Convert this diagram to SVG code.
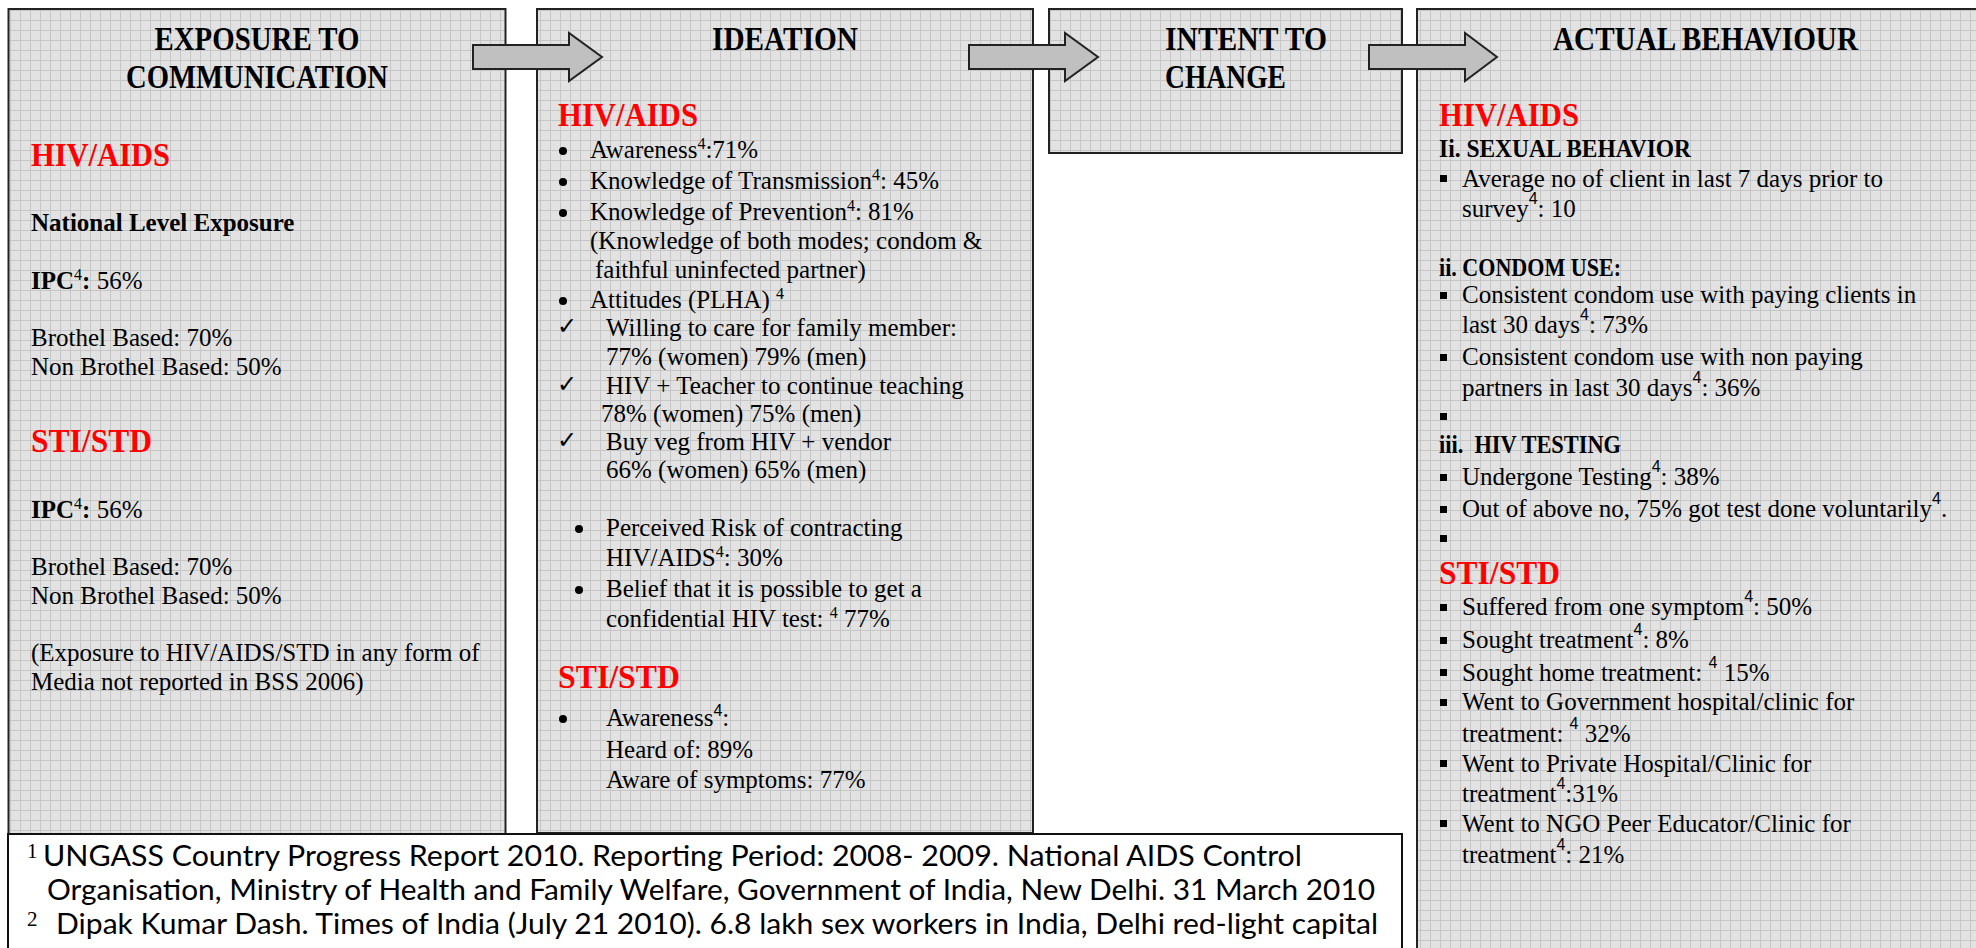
<svg xmlns="http://www.w3.org/2000/svg" width="1976" height="948" viewBox="0 0 1976 948">
<defs>
<pattern id="grid" width="10" height="10" patternUnits="userSpaceOnUse">
<rect width="10" height="10" fill="#e2e2e2"/>
<path d="M0 0.5H10M0.5 0V10" stroke="#c6c6c6" stroke-width="1"/>
</pattern>
<style>
.t{font-family:'Liberation Serif','DejaVu Serif',serif;font-size:25px;fill:#000}
.b{font-weight:bold}
.title{font-family:'Liberation Serif','DejaVu Serif',serif;font-size:33px;font-weight:bold;fill:#000}
.red{font-family:'Liberation Serif','DejaVu Serif',serif;font-size:34px;font-weight:bold;fill:#ff0000}
.sup{font-size:16px}
.ss{font-family:'Liberation Sans',sans-serif;font-size:16px}
.ck{font-family:'DejaVu Sans',sans-serif;font-size:24px;fill:#000}
.ft{font-family:Lato,'Liberation Sans',sans-serif;font-size:28px;fill:#000}
.fs{font-family:'Liberation Serif',serif;font-size:21px;fill:#000}
.box{fill:url(#grid);stroke:#222;stroke-width:2}
.arrow{fill:#c0c0c0;stroke:#222;stroke-width:2}
.dot{fill:#000}
</style>
</defs>
<rect width="1976" height="948" fill="#fff"/>

<g id="exposure">
<rect class="box" x="8.5" y="9" width="497" height="825"/>
<text class="title" x="257" y="50" text-anchor="middle" textLength="205" lengthAdjust="spacingAndGlyphs">EXPOSURE TO</text>
<text class="title" x="257" y="88" text-anchor="middle" textLength="262" lengthAdjust="spacingAndGlyphs">COMMUNICATION</text>
<text class="red" x="31" y="166" textLength="139" lengthAdjust="spacingAndGlyphs">HIV/AIDS</text>
<text class="t b" x="31" y="231">National Level Exposure</text>
<text class="t" x="31" y="289"><tspan class="b">IPC</tspan><tspan class="sup" dy="-9">4</tspan><tspan class="b" dy="9">:</tspan> 56%</text>
<text class="t" x="31" y="346">Brothel Based: 70%</text>
<text class="t" x="31" y="375">Non Brothel Based: 50%</text>
<text class="red" x="31" y="452" textLength="121" lengthAdjust="spacingAndGlyphs">STI/STD</text>
<text class="t" x="31" y="518"><tspan class="b">IPC</tspan><tspan class="sup" dy="-9">4</tspan><tspan class="b" dy="9">:</tspan> 56%</text>
<text class="t" x="31" y="575">Brothel Based: 70%</text>
<text class="t" x="31" y="604">Non Brothel Based: 50%</text>
<text class="t" x="31" y="661">(Exposure to HIV/AIDS/STD in any form of</text>
<text class="t" x="31" y="690">Media not reported in BSS 2006)</text>
</g>

<g id="ideation">
<rect class="box" x="537" y="9" width="496" height="824"/>
<text class="title" x="785" y="50" text-anchor="middle" textLength="146" lengthAdjust="spacingAndGlyphs">IDEATION</text>
<text class="red" x="558" y="126" textLength="140" lengthAdjust="spacingAndGlyphs">HIV/AIDS</text>
<circle class="dot" cx="563" cy="151" r="4"/>
<text class="t" x="590" y="158">Awareness<tspan class="sup" dy="-9">4</tspan><tspan dy="9">:71%</tspan></text>
<circle class="dot" cx="563" cy="182" r="4"/>
<text class="t" x="590" y="189">Knowledge of Transmission<tspan class="sup" dy="-9">4</tspan><tspan dy="9">: 45%</tspan></text>
<circle class="dot" cx="563" cy="213" r="4"/>
<text class="t" x="590" y="220">Knowledge of Prevention<tspan class="sup" dy="-9">4</tspan><tspan dy="9">: 81%</tspan></text>
<text class="t" x="590" y="249">(Knowledge of both modes; condom &amp;</text>
<text class="t" x="595" y="278">faithful uninfected partner)</text>
<circle class="dot" cx="563" cy="301" r="4"/>
<text class="t" x="590" y="308">Attitudes (PLHA) <tspan class="sup" dy="-9">4</tspan></text>
<text class="ck" x="557" y="334">✓</text>
<text class="t" x="606" y="336">Willing to care for family member:</text>
<text class="t" x="606" y="365">77% (women) 79% (men)</text>
<text class="ck" x="557" y="392">✓</text>
<text class="t" x="606" y="394">HIV + Teacher to continue teaching</text>
<text class="t" x="601" y="422">78% (women) 75% (men)</text>
<text class="ck" x="557" y="448">✓</text>
<text class="t" x="606" y="450">Buy veg from HIV + vendor</text>
<text class="t" x="606" y="478">66% (women) 65% (men)</text>
<circle class="dot" cx="579" cy="529" r="4"/>
<text class="t" x="606" y="536">Perceived Risk of contracting</text>
<text class="t" x="606" y="566">HIV/AIDS<tspan class="sup" dy="-9">4</tspan><tspan dy="9">: 30%</tspan></text>
<circle class="dot" cx="579" cy="590" r="4"/>
<text class="t" x="606" y="597">Belief that it is possible to get a</text>
<text class="t" x="606" y="627">confidential HIV test: <tspan class="sup" dy="-9">4</tspan><tspan dy="9"> 77%</tspan></text>
<text class="red" x="558" y="688" textLength="122" lengthAdjust="spacingAndGlyphs">STI/STD</text>
<circle class="dot" cx="563" cy="719" r="4"/>
<text class="t" x="606" y="726">Awareness<tspan class="ss" dy="-10" font-size="15">4</tspan><tspan dy="10">:</tspan></text>
<text class="t" x="606" y="758">Heard of: 89%</text>
<text class="t" x="606" y="788">Aware of symptoms: 77%</text>
</g>

<g id="intent">
<rect class="box" x="1049" y="9" width="353" height="144"/>
<text class="title" x="1165" y="50" textLength="162" lengthAdjust="spacingAndGlyphs">INTENT TO</text>
<text class="title" x="1165" y="88" textLength="121" lengthAdjust="spacingAndGlyphs">CHANGE</text>
</g>

<g id="behaviour">
<rect class="box" x="1417" y="9" width="620" height="980"/>
<text class="title" x="1553" y="50" textLength="305" lengthAdjust="spacingAndGlyphs">ACTUAL BEHAVIOUR</text>
<text class="red" x="1439" y="126" textLength="140" lengthAdjust="spacingAndGlyphs">HIV/AIDS</text>
<text class="t b" x="1439" y="157" font-size="26" textLength="252" lengthAdjust="spacingAndGlyphs">Ii. SEXUAL BEHAVIOR</text>
<rect class="dot" x="1440" y="175" width="7" height="7"/>
<text class="t" x="1462" y="187">Average no of client in last 7 days prior to</text>
<text class="t" x="1462" y="217">survey<tspan class="ss" dy="-13">4</tspan><tspan dy="13">: 10</tspan></text>
<text class="t b" x="1439" y="276" font-size="26" textLength="182" lengthAdjust="spacingAndGlyphs">ii. CONDOM USE:</text>
<rect class="dot" x="1440" y="292" width="7" height="7"/>
<text class="t" x="1462" y="303">Consistent condom use with paying clients in</text>
<text class="t" x="1462" y="333">last 30 days<tspan class="ss" dy="-13">4</tspan><tspan dy="13">: 73%</tspan></text>
<rect class="dot" x="1440" y="354" width="7" height="7"/>
<text class="t" x="1462" y="365">Consistent condom use with non paying</text>
<text class="t" x="1462" y="396">partners in last 30 days<tspan class="ss" dy="-13">4</tspan><tspan dy="13">: 36%</tspan></text>
<rect class="dot" x="1440" y="413" width="7" height="7"/>
<text class="t b" x="1439" y="453" font-size="26" textLength="182" lengthAdjust="spacingAndGlyphs" xml:space="preserve">iii.  HIV TESTING</text>
<rect class="dot" x="1440" y="474" width="7" height="7"/>
<text class="t" x="1462" y="485">Undergone Testing<tspan class="ss" dy="-13">4</tspan><tspan dy="13">: 38%</tspan></text>
<rect class="dot" x="1440" y="506" width="7" height="7"/>
<text class="t" x="1462" y="517">Out of above no, 75% got test done voluntarily<tspan class="ss" dy="-13">4</tspan><tspan dy="13">.</tspan></text>
<rect class="dot" x="1440" y="535" width="7" height="7"/>
<text class="red" x="1439" y="584" textLength="121" lengthAdjust="spacingAndGlyphs">STI/STD</text>
<rect class="dot" x="1440" y="604" width="7" height="7"/>
<text class="t" x="1462" y="615">Suffered from one symptom<tspan class="ss" dy="-13">4</tspan><tspan dy="13">: 50%</tspan></text>
<rect class="dot" x="1440" y="637" width="7" height="7"/>
<text class="t" x="1462" y="648">Sought treatment<tspan class="ss" dy="-13">4</tspan><tspan dy="13">: 8%</tspan></text>
<rect class="dot" x="1440" y="669" width="7" height="7"/>
<text class="t" x="1462" y="681">Sought home treatment: <tspan class="ss" dy="-13">4</tspan><tspan dy="13"> 15%</tspan></text>
<rect class="dot" x="1440" y="699" width="7" height="7"/>
<text class="t" x="1462" y="710">Went to Government hospital/clinic for</text>
<text class="t" x="1462" y="742">treatment: <tspan class="ss" dy="-13">4</tspan><tspan dy="13"> 32%</tspan></text>
<rect class="dot" x="1440" y="760" width="7" height="7"/>
<text class="t" x="1462" y="772">Went to Private Hospital/Clinic for</text>
<text class="t" x="1462" y="802">treatment<tspan class="ss" dy="-13">4</tspan><tspan dy="13">:31%</tspan></text>
<rect class="dot" x="1440" y="820" width="7" height="7"/>
<text class="t" x="1462" y="832">Went to NGO Peer Educator/Clinic for</text>
<text class="t" x="1462" y="863">treatment<tspan class="ss" dy="-13">4</tspan><tspan dy="13">: 21%</tspan></text>
</g>

<g id="footnotes">
<rect x="8" y="834" width="1394" height="140" fill="#fff" stroke="#111" stroke-width="2"/>
<text class="fs" x="27" y="858">1</text>
<text class="ft" x="43" y="866" textLength="1259" lengthAdjust="spacingAndGlyphs">UNGASS Country Progress Report 2010. Reporting Period: 2008- 2009. National AIDS Control</text>
<text class="ft" x="47" y="900" textLength="1328" lengthAdjust="spacingAndGlyphs">Organisation, Ministry of Health and Family Welfare, Government of India, New Delhi. 31 March 2010</text>
<text class="fs" x="27" y="926">2</text>
<text class="ft" x="56" y="934" textLength="1322" lengthAdjust="spacingAndGlyphs">Dipak Kumar Dash. Times of India (July 21 2010). 6.8 lakh sex workers in India, Delhi red-light capital</text>
</g>

<g id="connectors">
<path class="arrow" d="M473 45H569V33L602 57L569 81V69H473Z"/>
<path class="arrow" d="M969 45H1065V33L1098 57L1065 81V69H969Z"/>
<path class="arrow" d="M1369 45H1465V33L1497 57L1465 81V69H1369Z"/>
</g>
</svg>
